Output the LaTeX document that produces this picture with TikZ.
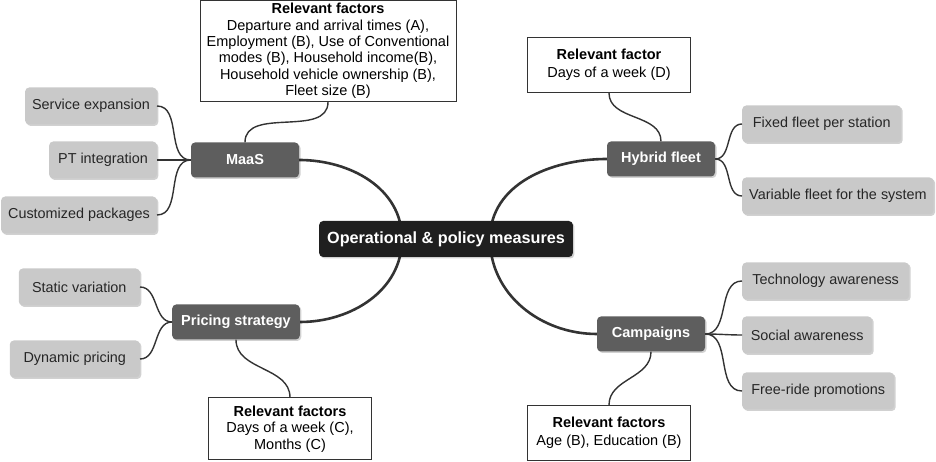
\documentclass[tikz,border=0pt]{standalone}
\usepackage{fontspec}
\setmainfont{Liberation Sans}
\usetikzlibrary{backgrounds,shadows}

\definecolor{hubgray}{HTML}{1F1F1F}
\definecolor{maingray}{HTML}{5E5E5E}
\definecolor{leafgray}{HTML}{C9C9C9}
\definecolor{linegray}{HTML}{333333}

\tikzstyle{softshadow}=[drop shadow={shadow xshift=1.5pt,shadow yshift=-1.5pt,fill=black,opacity=0.18}]
\tikzstyle{hub}=[rectangle,rounded corners=4pt,fill=hubgray,text=white,font=\fontsize{16.2}{19}\selectfont\bfseries,minimum height=36pt,inner xsep=8pt,softshadow]
\tikzstyle{measure}=[rectangle,rounded corners=4pt,fill=maingray,text=white,font=\fontsize{14.5}{17}\selectfont\bfseries,minimum height=35pt,minimum width=108pt,inner xsep=9pt,softshadow]
\tikzstyle{option}=[rectangle,rounded corners=4pt,fill=leafgray,text=black!85,font=\fontsize{14.4}{17}\selectfont,minimum height=37pt,inner xsep=7pt,softshadow]
\tikzstyle{factors}=[rectangle,draw=black!80,line width=1pt,fill=white,align=center,font=\fontsize{14.5}{16.4}\selectfont,inner sep=2pt,minimum width=163pt]
\tikzstyle{trunk}=[linegray,line width=2.6pt]
\tikzstyle{twig}=[linegray,line width=1.4pt]

\begin{document}
\begin{tikzpicture}[x=1pt,y=1pt]
	\useasboundingbox (0,0) rectangle (936,462);

	% centre and main measures
	\node (hub)[hub] at (446,223) {Operational \& policy measures};
	\coordinate (hubL) at (402,223);
	\coordinate (hubR) at (490,223);
	\node (maas)[measure] at (245,302) {MaaS};
	\node (hybrid)[measure] at (661,303) {Hybrid fleet};
	\node (pricing)[measure,minimum width=127pt] at (236,140) {Pricing strategy};
	\node (campaigns)[measure] at (651,128) {Campaigns};

	% options
	\node (service)[option,anchor=east] at (157,356) {Service expansion};
	\node (pt)[option,anchor=east,inner xsep=9pt] at (157,302) {PT integration};
	\node (custom)[option,anchor=east] at (157,247) {Customized packages};
	\node (static)[option,anchor=east,minimum width=121pt] at (140,175) {Static variation};
	\node (dynamic)[option,anchor=east,minimum width=130pt] at (140,103) {Dynamic pricing};
	\node (fixed)[option,anchor=west,minimum width=159pt] at (742,338) {Fixed fleet per station};
	\node (variable)[option,anchor=west] at (742,266) {Variable fleet for the system};
	\node (tech)[option,anchor=west,minimum width=167pt] at (742,181) {Technology awareness};
	\node (social)[option,anchor=west,minimum width=130pt] at (742,127) {Social awareness};
	\node (freeride)[option,anchor=west,minimum width=152pt] at (742,71) {Free-ride promotions};

	% relevant factors
	\node (maasF)[factors,minimum width=256pt,minimum height=101pt] at (328,411)
		{\textbf{Relevant factors}\\Departure and arrival times (A),\\Employment (B), Use of Conventional\\modes (B), Household income(B),\\Household vehicle ownership (B),\\Fleet size (B)};
	\node (hybridF)[factors,minimum height=55pt] at (609,397)
		{\textbf{Relevant factor}\\[1.5pt]Days of a week (D)};
	\node (pricingF)[factors,minimum height=62pt] at (290,33)
		{\textbf{Relevant factors}\\Days of a week (C),\\Months (C)};
	\node (campaignsF)[factors,minimum height=55pt] at (609,29)
		{\textbf{Relevant factors}\\[1.5pt]Age (B), Education (B)};

	\begin{scope}[on background layer]
		\draw[trunk] (hubL) to[out=90,in=0] (maas.east);
		\draw[trunk] (hubL) to[out=-90,in=0] (pricing.east);
		\draw[trunk] (hubR) to[out=90,in=180] (hybrid.west);
		\draw[trunk] (hubR) to[out=-90,in=180] (campaigns.west);
	\end{scope}

	\foreach \leaf in {service,pt,custom}
		\draw[twig] (maas.west) to[out=180,in=0] (\leaf.east);
	\foreach \leaf in {static,dynamic}
		\draw[twig] (pricing.west) to[out=180,in=0] (\leaf.east);
	\foreach \leaf in {fixed,variable}
		\draw[twig] (hybrid.east) to[out=0,in=180] (\leaf.west);
	\foreach \leaf in {tech,social,freeride}
		\draw[twig] (campaigns.east) to[out=0,in=180] (\leaf.west);

	\draw[twig] (maas.north) to[out=90,in=-90] (maasF.south);
	\draw[twig] (hybrid.north) to[out=90,in=-90] (hybridF.south);
	\draw[twig] (pricing.south) to[out=-90,in=90] (pricingF.north);
	\draw[twig] (campaigns.south) to[out=-90,in=90] (campaignsF.north);
\end{tikzpicture}
\end{document}
